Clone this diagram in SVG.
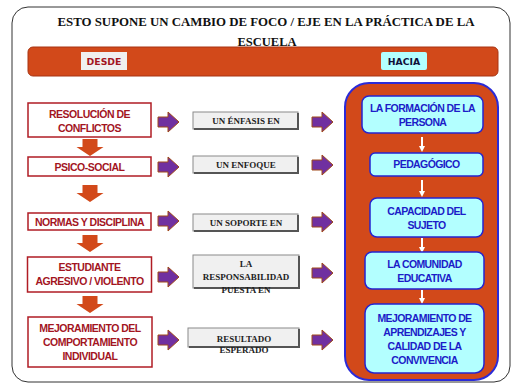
<svg xmlns="http://www.w3.org/2000/svg" xmlns:xlink="http://www.w3.org/1999/xlink" width="513" height="383" viewBox="0 0 513 383">
<style>
.title{font-family:"Liberation Serif","Times New Roman",serif;font-weight:bold;font-size:12.5px;fill:#111;text-anchor:middle}
.lbox{fill:#fff;stroke:#b01c24;stroke-width:1.5}
.ltxt{font-family:"Liberation Sans",Arial,sans-serif;font-weight:bold;font-size:10.5px;fill:#a3151f;text-anchor:middle;letter-spacing:-0.5px}
.mbox{fill:#f0f0f0;stroke:#8a8a8a;stroke-width:1}
.mshadow{fill:none;stroke:#555;stroke-width:2}
.mtxt{font-family:"Liberation Serif","Times New Roman",serif;font-weight:bold;font-size:9px;fill:#222;text-anchor:middle}
.rbox{fill:#b3ffff;stroke:#2424d0;stroke-width:1.5}
.rtxt{font-family:"Liberation Sans",Arial,sans-serif;font-weight:bold;font-size:10.5px;fill:#1c1cc8;text-anchor:middle;letter-spacing:-0.6px}
.hdr{font-family:"DejaVu Sans",Verdana,sans-serif;font-weight:bold;font-size:9.3px;text-anchor:middle}
.parrow{fill:#7030a0;stroke:#a04818;stroke-width:1}
.oarrow{fill:#d2491a}
.warrow{stroke:#fff;stroke-width:2;fill:none;marker-end:url(#wh)}
</style>
<defs>
<path id="pa" d="M0,-5 H10 V-10 L21,0 L10,10 V5 H0 Z"/>
<path id="oa" d="M-7.5,0 H7.5 V8 H13.5 L0,17 L-13.5,8 H-7.5 Z"/>
<marker id="wh" viewBox="0 0 6 6" refX="3" refY="3" markerWidth="3" markerHeight="3" orient="auto"><path d="M0,0 L6,3 L0,6 Z" fill="#fff"/></marker>
</defs>

<rect x="12" y="7" width="498" height="375" rx="16" fill="#fff" stroke="#333" stroke-width="1"/>
<text class="title" x="266" y="26" textLength="417" lengthAdjust="spacingAndGlyphs">ESTO SUPONE UN CAMBIO DE FOCO / EJE EN LA PRÁCTICA DE LA</text>
<text class="title" x="267" y="46">ESCUELA</text>

<g id="header">
<rect x="28" y="47" width="470" height="29" rx="5" fill="#d2491a" stroke="#a83512" stroke-width="1"/>
<rect x="81" y="52" width="46" height="18" fill="#f0f0f0"/>
<text class="hdr" x="104" y="64.5" fill="#a3151f">DESDE</text>
<rect x="381" y="52" width="46" height="18" rx="2" fill="#b3ffff"/>
<text class="hdr" x="404" y="64.5" fill="#10103a">HACIA</text>
</g>

<g id="right-container">
<rect x="345" y="83" width="153" height="297" rx="24" fill="#d2491a" stroke="#2b2bd8" stroke-width="2"/>
</g>

<g id="connectors">
<use xlink:href="#oa" class="oarrow" x="90" y="139"/>
<use xlink:href="#oa" class="oarrow" x="90" y="185"/>
<use xlink:href="#oa" class="oarrow" x="90" y="235"/>
<use xlink:href="#oa" class="oarrow" x="90" y="296"/>
<use xlink:href="#pa" class="parrow" x="158" y="122"/>
<use xlink:href="#pa" class="parrow" x="158" y="167"/>
<use xlink:href="#pa" class="parrow" x="158" y="221"/>
<use xlink:href="#pa" class="parrow" x="158" y="277"/>
<use xlink:href="#pa" class="parrow" x="158" y="340"/>
<use xlink:href="#pa" class="parrow" x="312" y="122"/>
<use xlink:href="#pa" class="parrow" x="312" y="165"/>
<use xlink:href="#pa" class="parrow" x="312" y="222"/>
<use xlink:href="#pa" class="parrow" x="312" y="273"/>
<use xlink:href="#pa" class="parrow" x="312" y="340"/>
<line class="warrow" x1="422" y1="137" x2="422" y2="149"/>
<line class="warrow" x1="422" y1="180" x2="422" y2="194"/>
<line class="warrow" x1="422" y1="238" x2="422" y2="250"/>
<line class="warrow" x1="422" y1="290" x2="422" y2="301"/>
</g>

<g id="l1"><rect class="lbox" x="28" y="103" width="123" height="34"/>
<text class="ltxt" x="89.5" y="118">RESOLUCIÓN DE</text><text class="ltxt" x="89.5" y="132">CONFLICTOS</text></g>
<g id="l2"><rect class="lbox" x="28" y="157" width="123" height="19"/>
<text class="ltxt" x="89.5" y="170.5">PSICO-SOCIAL</text></g>
<g id="l3"><rect class="lbox" x="28" y="213" width="123" height="17"/>
<text class="ltxt" x="89.5" y="225.5">NORMAS Y DISCIPLINA</text></g>
<g id="l4"><rect class="lbox" x="27.5" y="257" width="124" height="35"/>
<text class="ltxt" x="89.5" y="271">ESTUDIANTE</text><text class="ltxt" x="89.5" y="285">AGRESIVO / VIOLENTO</text></g>
<g id="l5"><rect class="lbox" x="28" y="317" width="124" height="50"/>
<text class="ltxt" x="90" y="332">MEJORAMIENTO DEL</text><text class="ltxt" x="90" y="345.5">COMPORTAMIENTO</text><text class="ltxt" x="90" y="359.5">INDIVIDUAL</text></g>

<g id="m1"><rect class="mbox" x="193" y="112" width="105" height="17"/><path class="mshadow" d="M194,129 H298 V113"/>
<text class="mtxt" x="246" y="123.5">UN ÉNFASIS EN</text></g>
<g id="m2"><rect class="mbox" x="193" y="156" width="105" height="17"/><path class="mshadow" d="M194,173 H298 V157"/>
<text class="mtxt" x="246" y="167.5">UN ENFOQUE</text></g>
<g id="m3"><rect class="mbox" x="193" y="214" width="105" height="17"/><path class="mshadow" d="M194,231 H298 V215"/>
<text class="mtxt" x="246" y="225.5">UN SOPORTE EN</text></g>
<g id="m4"><rect class="mbox" x="193" y="255" width="106" height="33"/><path class="mshadow" d="M194,288 H299 V256"/>
<text class="mtxt" x="246" y="267">LA</text><text class="mtxt" x="246" y="280">RESPONSABILIDAD</text><text class="mtxt" x="246" y="293">PUESTA EN</text></g>
<g id="m5"><rect class="mbox" x="188" y="328" width="111" height="19"/><path class="mshadow" d="M189,347 H299 V329"/>
<text class="mtxt" x="244" y="342">RESULTADO</text><text class="mtxt" x="244" y="353">ESPERADO</text></g>

<g id="r1"><rect class="rbox" x="362" y="96" width="121" height="37" rx="7"/>
<text class="rtxt" x="422.5" y="112">LA FORMACIÓN DE LA</text><text class="rtxt" x="422.5" y="126">PERSONA</text></g>
<g id="r2"><rect class="rbox" x="370" y="153" width="113" height="23" rx="5"/>
<text class="rtxt" x="426.5" y="168">PEDAGÓGICO</text></g>
<g id="r3"><rect class="rbox" x="370" y="198" width="113" height="39" rx="7"/>
<text class="rtxt" x="426.5" y="215">CAPACIDAD DEL</text><text class="rtxt" x="426.5" y="229">SUJETO</text></g>
<g id="r4"><rect class="rbox" x="365" y="252" width="119" height="37" rx="7"/>
<text class="rtxt" x="424.5" y="268">LA COMUNIDAD</text><text class="rtxt" x="424.5" y="282">EDUCATIVA</text></g>
<g id="r5"><rect class="rbox" x="365" y="304" width="119" height="69" rx="9"/>
<text class="rtxt" x="424.5" y="322">MEJORAMIENTO DE</text><text class="rtxt" x="424.5" y="335.5">APRENDIZAJES Y</text><text class="rtxt" x="424.5" y="350">CALIDAD DE LA</text><text class="rtxt" x="424.5" y="363.5">CONVIVENCIA</text></g>
</svg>
